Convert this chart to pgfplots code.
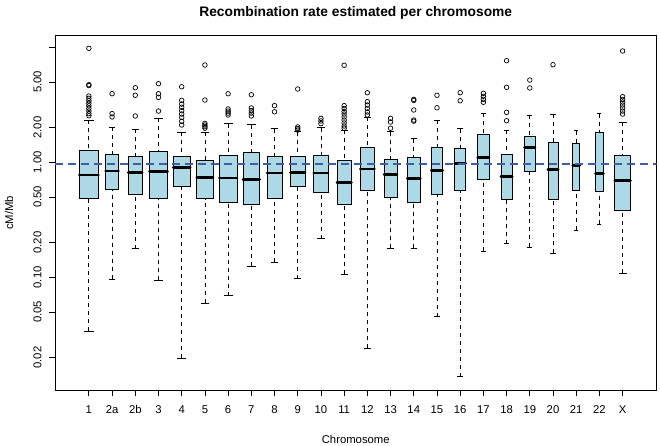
\documentclass[border=0pt]{standalone}
\usepackage{fontspec}
\setmainfont{Liberation Sans}
\usepackage{pgfplots}
\pgfplotsset{compat=1.18}
\usepgfplotslibrary{statistics}

\definecolor{lblue}{HTML}{ADD8E6}
\definecolor{meanblue}{HTML}{3F5FA5}

% R-like boxes: dashed whiskers, solid staples, thick median
\pgfplotsset{
  rbox/.style={draw=black, fill=lblue, line width=0.8bp, solid,
    mark=o, mark size=2.3bp,
    mark options={solid, draw=black, line width=0.7bp},
    boxplot/draw direction=y,
    boxplot/every median/.style={line width=2.8bp, line cap=round},
    boxplot/draw/lower whisker/.code={%
      \draw[dash pattern=on 4bp off 4bp]
        (boxplot cs:\pgfplotsboxplotvalue{lower whisker})
        -- (boxplot cs:\pgfplotsboxplotvalue{lower quartile});
      \draw (boxplot whisker cs:\pgfplotsboxplotvalue{lower whisker},0)
        -- (boxplot whisker cs:\pgfplotsboxplotvalue{lower whisker},1);
    },
    boxplot/draw/upper whisker/.code={%
      \draw[dash pattern=on 4bp off 4bp]
        (boxplot cs:\pgfplotsboxplotvalue{upper whisker})
        -- (boxplot cs:\pgfplotsboxplotvalue{upper quartile});
      \draw (boxplot whisker cs:\pgfplotsboxplotvalue{upper whisker},0)
        -- (boxplot whisker cs:\pgfplotsboxplotvalue{upper whisker},1);
    },
  },
}

\begin{document}
\begin{tikzpicture}
\path[use as bounding box] (-55bp,-56bp) rectangle (605bp,390bp);
\begin{axis}[
  at={(0,0)}, anchor=south west,
  width=601.5bp, height=354.3bp,
  scale only axis,
  ymode=log,
  xmin=-0.46, xmax=25.46,
  ymin=0.01047, ymax=12.62,
  axis line style={line width=0.8bp},
  tick style={line width=0.8bp, black},
  tick align=outside,
  major tick length=6bp,
  tick pos=left,
  xminorticks=false, yminorticks=false,
  xtick={1,...,24},
  xticklabels={1,2a,2b,3,4,5,6,7,8,9,10,11,12,13,14,15,16,17,18,19,20,21,22,X},
  ytick={0.02,0.05,0.1,0.2,0.5,1,2,5,10},
  yticklabels={0.02,0.05,0.10,0.20,0.50,1.00,2.00,5.00,{}},
  tick label style={font=\fontsize{11.3bp}{13bp}\selectfont},
  yticklabel style={rotate=90, anchor=south},
  yticklabel shift=4bp,
  xticklabel shift=6bp,
  /pgf/number format/assume math mode=true,
  title={Recombination rate estimated per chromosome},
  title style={at={(axis description cs:0.5,1.047)}, anchor=center,
    font=\bfseries\fontsize{13.8bp}{16bp}\selectfont},
  xlabel={Chromosome},
  xlabel style={at={(axis description cs:0.5,-0.1383)}, anchor=center,
    font=\fontsize{11.3bp}{13bp}\selectfont},
  ylabel={cM/Mb},
  ylabel style={at={(axis description cs:-0.0765,0.5)}, anchor=center,
    font=\fontsize{11.3bp}{13bp}\selectfont},
]

% 1
\addplot[rbox, boxplot prepared={draw position=1, box extend=0.83, whisker extend=0.415,
  lower whisker=0.0339, lower quartile=0.483, median=0.775, upper quartile=1.262, upper whisker=2.333}]
  table[row sep=\\, y index=0] {v\\ 9.80\\ 4.73\\ 4.65\\ 3.77\\ 3.60\\ 3.43\\ 3.26\\ 3.10\\ 2.95\\ 2.79\\ 2.65\\ 2.54\\};
% 2a
\addplot[rbox, boxplot prepared={draw position=2, box extend=0.56, whisker extend=0.28,
  lower whisker=0.0961, lower quartile=0.582, median=0.840, upper quartile=1.181, upper whisker=2.027}]
  table[row sep=\\, y index=0] {v\\ 3.95\\ 2.65\\ 2.48\\};
% 2b
\addplot[rbox, boxplot prepared={draw position=3, box extend=0.60, whisker extend=0.30,
  lower whisker=0.1773, lower quartile=0.530, median=0.812, upper quartile=1.119, upper whisker=1.948}]
  table[row sep=\\, y index=0] {v\\ 4.45\\ 3.83\\ 2.53\\};
% 3
\addplot[rbox, boxplot prepared={draw position=4, box extend=0.78, whisker extend=0.39,
  lower whisker=0.0941, lower quartile=0.483, median=0.835, upper quartile=1.254, upper whisker=2.413}]
  table[row sep=\\, y index=0] {v\\ 4.83\\ 3.95\\ 3.67\\ 2.79\\};
% 4
\addplot[rbox, boxplot prepared={draw position=5, box extend=0.73, whisker extend=0.365,
  lower whisker=0.0199, lower quartile=0.618, median=0.898, upper quartile=1.119, upper whisker=1.834}]
  table[row sep=\\, y index=0] {v\\ 4.54\\ 3.46\\ 3.21\\ 3.01\\ 2.81\\ 2.63\\ 2.46\\ 2.27\\ 2.11\\};
% 5
\addplot[rbox, boxplot prepared={draw position=6, box extend=0.70, whisker extend=0.35,
  lower whisker=0.0594, lower quartile=0.483, median=0.741, upper quartile=1.041, upper whisker=1.834}]
  table[row sep=\\, y index=0] {v\\ 7.02\\ 3.48\\ 2.18\\ 2.11\\ 2.04\\ 1.98\\};
% 6
\addplot[rbox, boxplot prepared={draw position=7, box extend=0.76, whisker extend=0.38,
  lower whisker=0.0692, lower quartile=0.452, median=0.730, upper quartile=1.150, upper whisker=2.166}]
  table[row sep=\\, y index=0] {v\\ 3.95\\ 2.91\\ 2.79\\ 2.68\\ 2.58\\};
% 7
\addplot[rbox, boxplot prepared={draw position=8, box extend=0.72, whisker extend=0.36,
  lower whisker=0.1247, lower quartile=0.431, median=0.711, upper quartile=1.222, upper whisker=2.123}]
  table[row sep=\\, y index=0] {v\\ 3.87\\ 2.97\\ 2.82\\ 2.68\\ 2.53\\};
% 8
\addplot[rbox, boxplot prepared={draw position=9, box extend=0.65, whisker extend=0.325,
  lower whisker=0.135, lower quartile=0.489, median=0.807, upper quartile=1.128, upper whisker=1.960}]
  table[row sep=\\, y index=0] {v\\ 3.11\\ 2.75\\};
% 9
\addplot[rbox, boxplot prepared={draw position=10, box extend=0.62, whisker extend=0.31,
  lower whisker=0.0973, lower quartile=0.618, median=0.819, upper quartile=1.119, upper whisker=1.845}]
  table[row sep=\\, y index=0] {v\\ 4.34\\ 2.03\\ 1.97\\ 1.91\\};
% 10
\addplot[rbox, boxplot prepared={draw position=11, box extend=0.62, whisker extend=0.31,
  lower whisker=0.2167, lower quartile=0.544, median=0.807, upper quartile=1.150, upper whisker=2.00}]
  table[row sep=\\, y index=0] {v\\ 2.41\\ 2.29\\ 2.17\\};
% 11
\addplot[rbox, boxplot prepared={draw position=12, box extend=0.62, whisker extend=0.31,
  lower whisker=0.1062, lower quartile=0.428, median=0.670, upper quartile=1.041, upper whisker=1.898}]
  table[row sep=\\, y index=0] {v\\ 6.98\\ 3.11\\ 2.94\\ 2.77\\ 2.63\\ 2.48\\ 2.33\\ 2.20\\ 2.07\\ 1.98\\};
% 12
\addplot[rbox, boxplot prepared={draw position=13, box extend=0.62, whisker extend=0.31,
  lower whisker=0.0241, lower quartile=0.571, median=0.875, upper quartile=1.34, upper whisker=2.46}]
  table[row sep=\\, y index=0] {v\\ 4.03\\ 3.37\\ 3.15\\ 2.94\\ 2.74\\ 2.58\\};
% 13
\addplot[rbox, boxplot prepared={draw position=14, box extend=0.55, whisker extend=0.275,
  lower whisker=0.1798, lower quartile=0.492, median=0.786, upper quartile=1.068, upper whisker=1.845}]
  table[row sep=\\, y index=0] {v\\ 2.41\\ 2.24\\ 1.98\\};
% 14
\addplot[rbox, boxplot prepared={draw position=15, box extend=0.55, whisker extend=0.275,
  lower whisker=0.1788, lower quartile=0.452, median=0.720, upper quartile=1.112, upper whisker=1.604}]
  table[row sep=\\, y index=0] {v\\ 3.53\\ 3.45\\ 2.85\\ 2.33\\ 2.28\\};
% 15
\addplot[rbox, boxplot prepared={draw position=16, box extend=0.49, whisker extend=0.245,
  lower whisker=0.0454, lower quartile=0.527, median=0.845, upper quartile=1.358, upper whisker=2.333}]
  table[row sep=\\, y index=0] {v\\ 3.83\\ 2.98\\};
% 16
\addplot[rbox, boxplot prepared={draw position=17, box extend=0.47, whisker extend=0.235,
  lower whisker=0.01367, lower quartile=0.574, median=0.972, upper quartile=1.313, upper whisker=1.96}]
  table[row sep=\\, y index=0] {v\\ 4.03\\ 3.43\\};
% 17
\addplot[rbox, boxplot prepared={draw position=18, box extend=0.49, whisker extend=0.245,
  lower whisker=0.1694, lower quartile=0.706, median=1.096, upper quartile=1.738, upper whisker=2.68}]
  table[row sep=\\, y index=0] {v\\ 3.98\\ 3.75\\ 3.53\\ 3.33\\};
% 18
\addplot[rbox, boxplot prepared={draw position=19, box extend=0.49, whisker extend=0.245,
  lower whisker=0.196, lower quartile=0.473, median=0.749, upper quartile=1.164, upper whisker=1.909}]
  table[row sep=\\, y index=0] {v\\ 7.65\\ 4.49\\ 2.72\\ 2.30\\};
% 19
\addplot[rbox, boxplot prepared={draw position=20, box extend=0.45, whisker extend=0.225,
  lower whisker=0.1834, lower quartile=0.835, median=1.35, upper quartile=1.693, upper whisker=2.56}]
  table[row sep=\\, y index=0] {v\\ 5.19\\ 4.43\\};
% 20
\addplot[rbox, boxplot prepared={draw position=21, box extend=0.44, whisker extend=0.22,
  lower whisker=0.1617, lower quartile=0.473, median=0.869, upper quartile=1.48, upper whisker=2.61}]
  table[row sep=\\, y index=0] {v\\ 7.06\\};
% 21
\addplot[rbox, boxplot prepared={draw position=22, box extend=0.30, whisker extend=0.15,
  lower whisker=0.2578, lower quartile=0.571, median=0.942, upper quartile=1.451, upper whisker=1.883}]
  coordinates {};
% 22
\addplot[rbox, boxplot prepared={draw position=23, box extend=0.34, whisker extend=0.17,
  lower whisker=0.289, lower quartile=0.56, median=0.796, upper quartile=1.834, upper whisker=2.65}]
  coordinates {};
% X
\addplot[rbox, boxplot prepared={draw position=24, box extend=0.67, whisker extend=0.335,
  lower whisker=0.1083, lower quartile=0.385, median=0.692, upper quartile=1.15, upper whisker=2.228}]
  table[row sep=\\, y index=0] {v\\ 9.29\\ 3.72\\ 3.52\\ 3.34\\ 3.15\\ 2.97\\ 2.79\\ 2.63\\};

% genome-wide mean
\addplot[draw=meanblue, line width=2bp, dash pattern=on 8bp off 5bp]
  coordinates {(-0.46,0.96) (25.46,0.96)};

\end{axis}
\end{tikzpicture}
\end{document}
